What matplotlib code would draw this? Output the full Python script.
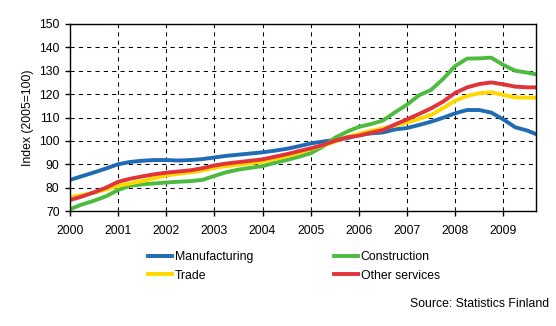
import numpy as np
import matplotlib
matplotlib.use("Agg")
import matplotlib.pyplot as plt

plt.rcParams['font.family'] = ['Liberation Sans', 'DejaVu Sans']

# quarterly readings, Jan 2000 ... Jul 2009, plus Sep 2009
dates = list(2000 + np.arange(39) / 4.0) + [2009 + 8 / 12.0]

manufacturing = [83.3, 84.9, 86.5, 88.2, 90.0, 91.0, 91.5, 91.8, 91.8, 91.6,
                 91.8, 92.2, 92.9, 93.6, 94.1, 94.6, 95.1, 95.8, 96.6, 97.7,
                 98.9, 99.7, 100.4, 101.1, 102.5, 103.2, 103.6, 104.9, 105.5, 106.8,
                 108.2, 109.9, 111.8, 113.2, 113.2, 112.1, 109.2, 105.8, 104.4, 103.0]
construction = [70.8, 72.8, 74.4, 76.3, 79.0, 80.8, 81.4, 81.8, 82.2, 82.5,
                82.8, 83.3, 85.0, 86.6, 87.7, 88.5, 89.2, 90.6, 91.8, 93.2,
                94.7, 97.5, 101.3, 103.9, 106.0, 107.2, 108.7, 112.2, 115.5, 119.5,
                121.8, 126.5, 132.0, 135.2, 135.3, 135.6, 132.5, 130.0, 129.2, 128.5]
trade = [75.9, 76.8, 77.8, 79.2, 80.8, 81.8, 82.8, 84.0, 85.2, 85.9,
         86.5, 87.3, 88.5, 89.2, 89.8, 90.4, 91.1, 92.2, 93.4, 94.8,
         96.5, 98.0, 99.6, 101.6, 103.0, 104.3, 105.4, 106.6, 107.8, 109.4,
         111.1, 114.0, 117.2, 119.2, 120.4, 120.8, 119.7, 118.6, 118.5, 118.5]
other_services = [74.7, 76.2, 78.0, 80.0, 82.5, 83.8, 84.8, 85.7, 86.4, 86.9,
                  87.4, 88.3, 89.5, 90.3, 90.9, 91.5, 92.1, 93.2, 94.3, 95.6,
                  96.8, 98.2, 100.0, 101.5, 102.2, 103.5, 104.6, 107.0, 109.2, 111.5,
                  113.9, 116.8, 120.5, 122.9, 124.3, 125.0, 124.2, 123.2, 122.9, 122.9]

years = list(range(2000, 2010))
fs = 8.8

fig = plt.figure(figsize=(5.56, 3.26), dpi=100)
ax = fig.add_axes([70 / 556, 1 - 211 / 326, 466 / 556, 187 / 326])

l1, = ax.plot(dates, manufacturing, color='#1f6bb4', lw=2.8, label='Manufacturing')
l2, = ax.plot(dates, construction, color='#4dbb3f', lw=2.8, label='Construction')
l3, = ax.plot(dates, trade, color='#ffd800', lw=2.8, label='Trade')
l4, = ax.plot(dates, other_services, color='#e0343a', lw=2.8, label='Other services')

ax.set_xlim(2000, 2009.68)
ax.set_ylim(70, 150)
ax.set_xticks(years)
ax.set_xticklabels([str(y) for y in years])
ax.set_yticks(range(70, 151, 10))
ax.grid(True, color='black', linestyle=(0, (4, 4)), lw=0.75)
ax.set_axisbelow(True)
for s in ax.spines.values():
    s.set_linewidth(1.0)
ax.tick_params(axis='both', direction='out', length=3.5, width=1, labelsize=fs)
ax.tick_params(axis='x', pad=6.5)
ax.tick_params(axis='y', pad=4)
ax.set_ylabel('Index (2005=100)', fontsize=fs, labelpad=4)

fig.legend([l1, l3, l2, l4], ['Manufacturing', 'Trade', 'Construction', 'Other services'],
           ncol=2, loc='upper left', bbox_to_anchor=(148 / 556, 1 - 251 / 326),
           frameon=False, fontsize=fs, handlelength=2.0, handletextpad=0.2,
           columnspacing=6.6, labelspacing=0.55, borderpad=0, borderaxespad=0)

fig.text(549 / 556, 1 - 304 / 326, 'Source: Statistics Finland', ha='right', va='center', fontsize=fs)

fig.savefig('out.png', dpi=100)
